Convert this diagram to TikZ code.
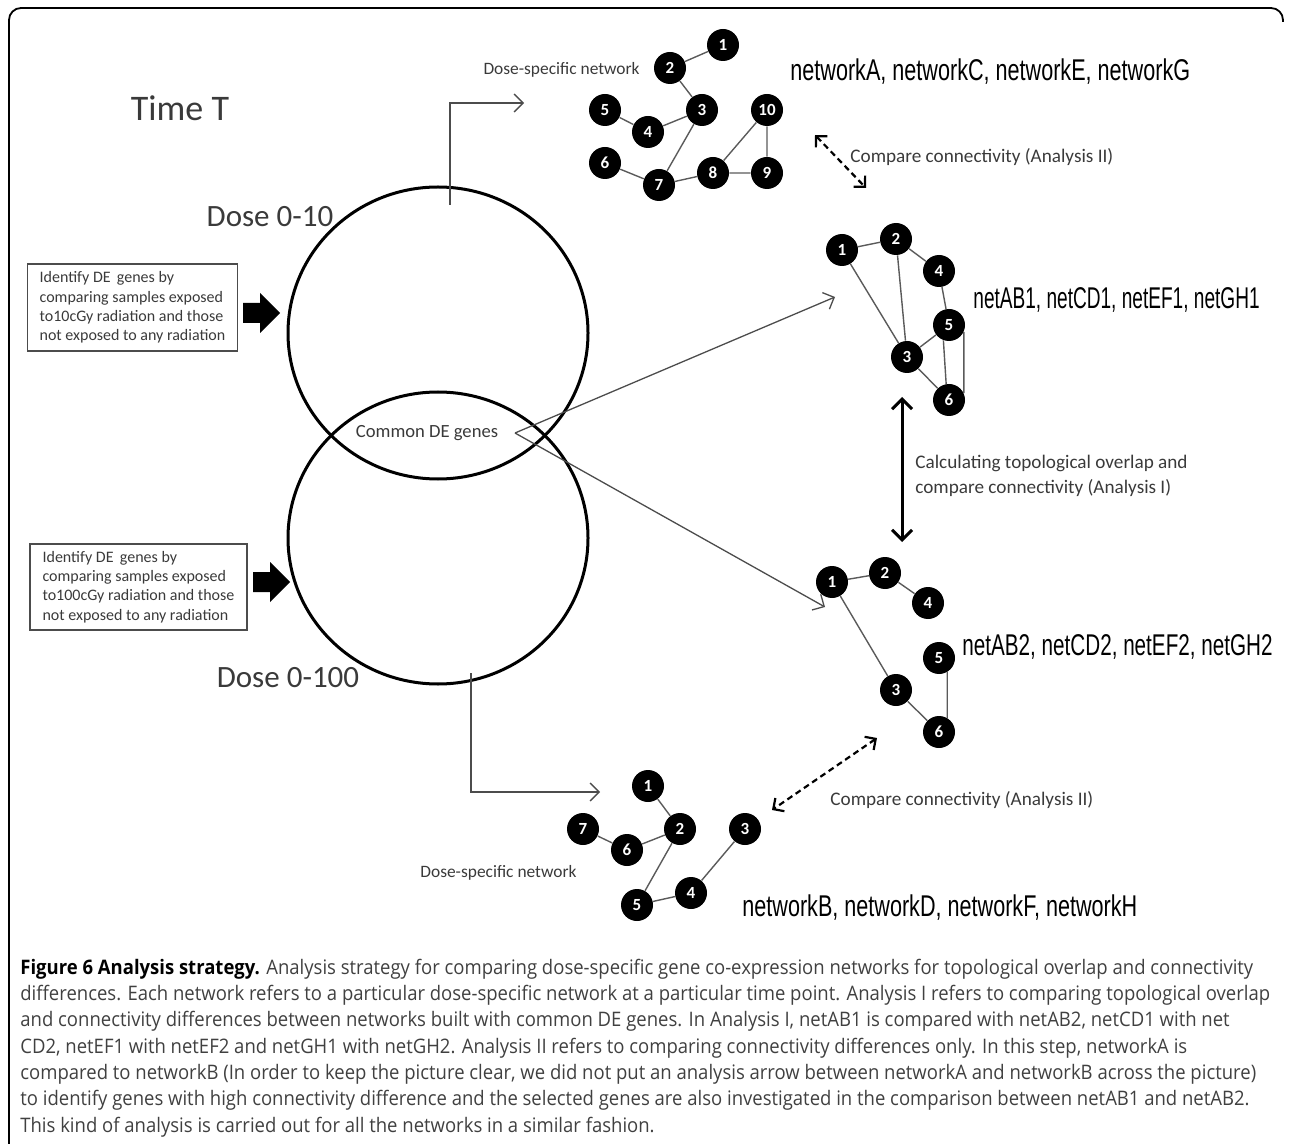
\documentclass[tikz,border=0pt]{standalone}
\usepackage{fontspec}
\usepackage{graphicx}
\setmainfont{Carlito}
\newfontfamily\netfont[FakeStretch=0.72]{Liberation Sans}
\newfontfamily\capfont[FakeStretch=0.925]{Open Sans}
\usetikzlibrary{arrows.meta,shapes.geometric}
\definecolor{txtgray}{HTML}{3A3A3A}
\definecolor{edgegray}{HTML}{5A5A5A}
\definecolor{capgray}{HTML}{404040}
\tikzset{
  gene/.style={circle, fill=black, minimum size=16pt, inner sep=0pt, text=white,
    font=\bfseries\fontsize{8.5}{9}\selectfont},
  gedge/.style={draw=edgegray, line width=0.7pt},
  venn/.style={ellipse, draw=black, line width=1.5pt, minimum width=150pt, minimum height=146pt, inner sep=0pt},
  thinarrow/.style={draw=black!70, line width=0.65pt, -{Straight Barb[length=4.5pt,width=9pt]}},
  dasharrow/.style={draw=black, line width=1.1pt, dash pattern=on 3pt off 2pt, {Straight Barb[length=4pt,width=8pt]}-{Straight Barb[length=4pt,width=8pt]}},
  bigarrow/.style={draw=black, line width=1.5pt, {Straight Barb[length=5pt,width=10pt]}-{Straight Barb[length=5pt,width=10pt]}},
  netlabel/.style={font=\netfont\fontsize{15}{15}\selectfont, text=black, inner sep=0pt},
  doselabel/.style={font=\fontsize{15.5}{16}\selectfont, text=txtgray, inner sep=0pt},
  smalltxt/.style={font=\fontsize{8.7}{12.5}\selectfont, text=txtgray, inner sep=0pt},
  analysistxt/.style={font=\fontsize{9.6}{12.5}\selectfont, text=txtgray, inner sep=0pt},
  boxtxt/.style={draw=black!70, line width=0.7pt, font=\fontsize{8}{9.6}\selectfont, text=txtgray, align=left, inner xsep=6pt, inner ysep=0pt, anchor=center},
  capline/.style={font=\capfont\fontsize{10}{13}\selectfont, text=capgray, inner sep=0pt, anchor=base west},
  blockarrow/.style={fill=black, draw=none}
}
\begin{document}
\begin{tikzpicture}[x=0.5pt,y=-0.5pt]
\useasboundingbox (0,0) rectangle (1290,1144);
% frame
\draw[line width=0.9pt, rounded corners=6pt] (9,1144) -- (9,8) -- (1283,8) -- (1283,22);

% titles
\node[doselabel, font=\fontsize{18}{18}\selectfont] (timeT) at (180,108) {Time T};
\node[doselabel] (dose10) at (270,217) {Dose 0-10};
\node[doselabel] (dose100) at (288,678) {Dose 0-100};

% Venn circles
\node[venn] (c10) at (438,333) {};
\node[venn] (c100) at (438,538) {};
\node[font=\fontsize{9.3}{10}\selectfont, text=txtgray, inner sep=0pt] (common) at (427,433) {Common DE genes};

% input boxes
\node[boxtxt, minimum width=102.5pt, minimum height=43.5pt] (box1) at (132.5,307.5)
  {Identify DE\, genes by\\comparing samples exposed\\to10cGy radiation and those\\not exposed to any radiation};
\node[boxtxt, minimum width=108.5pt, minimum height=43pt] (box2) at (138.5,587)
  {Identify DE\, genes by\\comparing samples exposed\\to100cGy radiation and those\\not exposed to any radiation};

% block arrows
\fill[blockarrow] (243,303) -- (260,303) -- (260,293) -- (280,313) -- (260,333) -- (260,323) -- (243,323) -- cycle;
\fill[blockarrow] (253,572) -- (270,572) -- (270,562) -- (290,582) -- (270,602) -- (270,592) -- (253,592) -- cycle;

% top network (networkA)
\node[gene] (a1) at (723,45) {1};
\node[gene] (a2) at (670,68) {2};
\node[gene] (a3) at (702,110) {3};
\node[gene] (a4) at (648,132) {4};
\node[gene] (a5) at (605,110) {5};
\node[gene] (a6) at (605,163) {6};
\node[gene] (a7) at (659,185) {7};
\node[gene] (a8) at (713,173) {8};
\node[gene] (a9) at (767,173) {9};
\node[gene] (a10) at (767,110) {10};
\draw[gedge] (a1) -- (a2) (a2) -- (a3) (a3) -- (a4) (a4) -- (a5) (a3) -- (a7)
  (a6) -- (a7) (a7) -- (a8) (a8) -- (a9) (a8) -- (a10) (a10) -- (a9);
\node[smalltxt, anchor=east] (dsn1) at (640,70) {Dose-specific network};
\node[netlabel, anchor=west] (netA) at (790,72) {networkA, networkC, networkE, networkG};

% network 1 (common, dose 10)
\node[gene] (b1) at (842,250) {1};
\node[gene] (b2) at (896,239) {2};
\node[gene] (b4) at (939,271) {4};
\node[gene] (b5) at (949,325) {5};
\node[gene] (b3) at (907,357) {3};
\node[gene] (b6) at (949,400) {6};
\draw[gedge] (b1) -- (b2) (b2) -- (b4) (b1) -- (b3) (b2) -- (b3) (b4) -- (b5)
  (b3) -- (b5) (b3) -- (b6) (b5.-110) -- (b6.100) (b5.-25) -- (b6.25);
\node[netlabel, anchor=west] (net1) at (973,300) {\scalebox{0.883}[1]{netAB1, netCD1, netEF1, netGH1}};

% network 2 (common, dose 100)
\node[gene] (e1) at (832,582) {1};
\node[gene] (e2) at (885,573) {2};
\node[gene] (e4) at (928,603) {4};
\node[gene] (e5) at (939,658) {5};
\node[gene] (e3) at (896,690) {3};
\node[gene] (e6) at (939,732) {6};
\draw[gedge] (e1) -- (e2) (e2) -- (e4) (e1) -- (e3) (e3) -- (e6) (e5.-60) -- (e6.60);
\node[netlabel, anchor=west] (net2) at (962,647) {\scalebox{0.957}[1]{netAB2, netCD2, netEF2, netGH2}};

% bottom network (networkB)
\node[gene] (d1) at (648,786) {1};
\node[gene] (d2) at (680,829) {2};
\node[gene] (d3) at (745,829) {3};
\node[gene] (d7) at (583,829) {7};
\node[gene] (d6) at (627,850) {6};
\node[gene] (d5) at (637,905) {5};
\node[gene] (d4) at (691,893) {4};
\draw[gedge] (d1) -- (d2) (d2) -- (d6) (d6) -- (d7) (d2) -- (d5) (d5) -- (d4) (d4) -- (d3);
\node[smalltxt, anchor=west] (dsn2) at (420,873) {Dose-specific network};
\node[netlabel, anchor=west] (netB) at (742,908) {networkB, networkD, networkF, networkH};

% connectors
\coordinate (topstart) at (450,205);
\coordinate (topend) at (524,103);
\draw[thinarrow] (topstart) |- (topend);
\coordinate (botstart) at (471,673);
\coordinate (botend) at (600,792);
\draw[thinarrow] (botstart) |- (botend);

\coordinate (cdetip) at (515,433);
\coordinate (n1end) at (835,297);
\coordinate (n2end) at (825,607);
\draw[thinarrow] (cdetip) -- (n1end);
\draw[thinarrow] (cdetip) -- (n2end);

\coordinate (aI1) at (902,397);
\coordinate (aI2) at (902,542);
\draw[bigarrow] (aI1) -- (aI2);
\node[analysistxt, anchor=north west, align=left] (anI) at (915,455) {Calculating topological overlap and\\compare connectivity (Analysis I)};

\coordinate (dt1) at (815,135);
\coordinate (dt2) at (866,188);
\draw[dasharrow] (dt1) -- (dt2);
\node[analysistxt, anchor=west] (anII1) at (850,157) {Compare connectivity (Analysis II)};

\coordinate (db1) at (877,738);
\coordinate (db2) at (772,810);
\draw[dasharrow] (db1) -- (db2);
\node[analysistxt, anchor=west] (anII2) at (830,800) {Compare connectivity (Analysis II)};

% caption
\node[capline] (cap1) at (20,974) {\textbf{\textcolor{black}{Figure 6 Analysis strategy.}} Analysis strategy for comparing dose-specific gene co-expression networks for topological overlap and connectivity};
\node[capline] (cap2) at (20,1000.3) {differences. Each network refers to a particular dose-specific network at a particular time point. Analysis I refers to comparing topological overlap};
\node[capline] (cap3) at (20,1026.6) {and connectivity differences between networks built with common DE genes. In Analysis I, netAB1 is compared with netAB2, netCD1 with net};
\node[capline] (cap4) at (20,1053) {CD2, netEF1 with netEF2 and netGH1 with netGH2. Analysis II refers to comparing connectivity differences only. In this step, networkA is};
\node[capline] (cap5) at (20,1079) {compared to networkB (In order to keep the picture clear, we did not put an analysis arrow between networkA and networkB across the picture)};
\node[capline] (cap6) at (20,1105.5) {to identify genes with high connectivity difference and the selected genes are also investigated in the comparison between netAB1 and netAB2.};
\node[capline] (cap7) at (20,1132) {This kind of analysis is carried out for all the networks in a similar fashion.};
\end{tikzpicture}
\end{document}
